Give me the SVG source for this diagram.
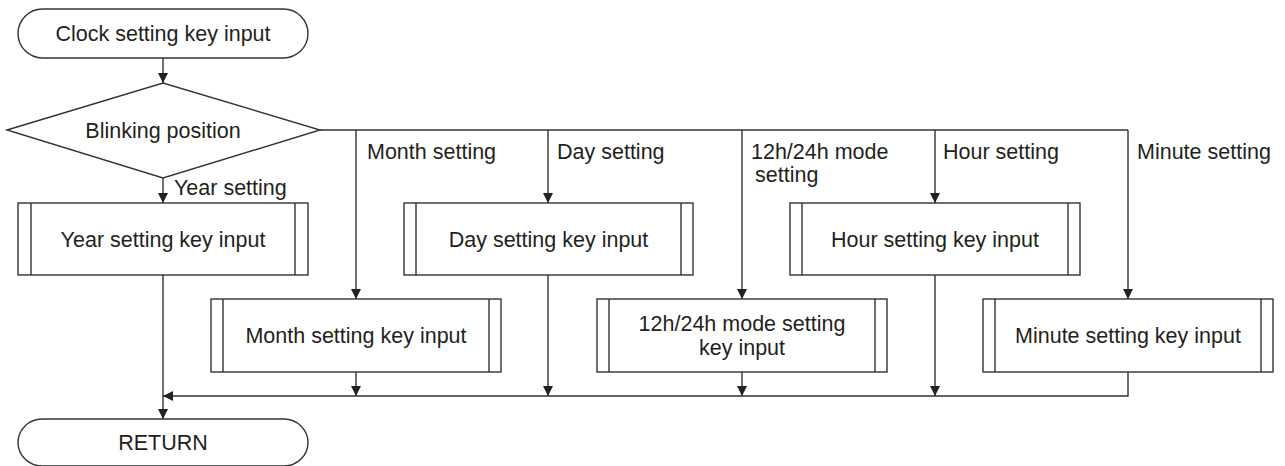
<svg xmlns="http://www.w3.org/2000/svg" width="1285" height="466" viewBox="0 0 1285 466">
<style>
.s{fill:#fff;stroke:#333;stroke-width:1.4}
.l{fill:none;stroke:#333;stroke-width:1.4}
text{font-family:"Liberation Sans",Arial,sans-serif;font-size:21.5px;fill:#231f20}
.c{text-anchor:middle}
</style>
<defs>
<marker id="a" viewBox="0 0 10 10" refX="10" refY="5" markerWidth="10" markerHeight="10" markerUnits="userSpaceOnUse" orient="auto">
<path d="M0,0 L10,5 L0,10 Z" fill="#222"/>
</marker>
</defs>
<g id="connectors">
<line class="l" x1="163" y1="58" x2="163" y2="83" marker-end="url(#a)"/>
<line class="l" x1="163" y1="178" x2="163" y2="203" marker-end="url(#a)"/>
<polyline class="l" points="320,130 1128,130"/>
<line class="l" x1="356" y1="130" x2="356" y2="299" marker-end="url(#a)"/>
<line class="l" x1="548" y1="130" x2="548" y2="203" marker-end="url(#a)"/>
<line class="l" x1="742" y1="130" x2="742" y2="299" marker-end="url(#a)"/>
<line class="l" x1="935" y1="130" x2="935" y2="203" marker-end="url(#a)"/>
<line class="l" x1="1128" y1="130" x2="1128" y2="299" marker-end="url(#a)"/>
<line class="l" x1="163" y1="275" x2="163" y2="419" marker-end="url(#a)"/>
<line class="l" x1="356" y1="372" x2="356" y2="396" marker-end="url(#a)"/>
<line class="l" x1="548" y1="275" x2="548" y2="396" marker-end="url(#a)"/>
<line class="l" x1="742" y1="372" x2="742" y2="396" marker-end="url(#a)"/>
<line class="l" x1="935" y1="275" x2="935" y2="396" marker-end="url(#a)"/>
<polyline class="l" points="1128,372 1128,396 163,396" marker-end="url(#a)"/>
<text x="174" y="195">Year setting</text>
<text x="367" y="159">Month setting</text>
<text x="557" y="159">Day setting</text>
<text x="751" y="159">12h/24h mode</text>
<text x="755" y="182">setting</text>
<text x="943" y="159">Hour setting</text>
<text x="1137" y="159">Minute setting</text>
</g>
<g id="start">
<rect class="s" x="18" y="9" width="290" height="49" rx="24.5" ry="24.5"/>
<text class="c" x="163" y="41">Clock setting key input</text>
</g>
<g id="decision">
<polygon class="s" points="7,130 163,83 320,130 163,178"/>
<text class="c" x="163" y="138">Blinking position</text>
</g>
<g id="year">
<rect class="s" x="18" y="203" width="290" height="72"/>
<line class="l" x1="31" y1="203" x2="31" y2="275"/><line class="l" x1="295" y1="203" x2="295" y2="275"/>
<text class="c" x="163" y="247">Year setting key input</text>
</g>
<g id="day">
<rect class="s" x="404" y="203" width="289" height="72"/>
<line class="l" x1="416" y1="203" x2="416" y2="275"/><line class="l" x1="681" y1="203" x2="681" y2="275"/>
<text class="c" x="548.5" y="247">Day setting key input</text>
</g>
<g id="hour">
<rect class="s" x="790" y="203" width="290" height="72"/>
<line class="l" x1="802" y1="203" x2="802" y2="275"/><line class="l" x1="1068" y1="203" x2="1068" y2="275"/>
<text class="c" x="935" y="247">Hour setting key input</text>
</g>
<g id="month">
<rect class="s" x="211" y="299" width="290" height="73"/>
<line class="l" x1="223" y1="299" x2="223" y2="372"/><line class="l" x1="489" y1="299" x2="489" y2="372"/>
<text class="c" x="356" y="343">Month setting key input</text>
</g>
<g id="mode">
<rect class="s" x="597" y="299" width="290" height="73"/>
<line class="l" x1="609" y1="299" x2="609" y2="372"/><line class="l" x1="875" y1="299" x2="875" y2="372"/>
<text class="c" x="742" y="331">12h/24h mode setting</text>
<text class="c" x="742" y="355">key input</text>
</g>
<g id="minute">
<rect class="s" x="983" y="299" width="290" height="73"/>
<line class="l" x1="995" y1="299" x2="995" y2="372"/><line class="l" x1="1261" y1="299" x2="1261" y2="372"/>
<text class="c" x="1128" y="343">Minute setting key input</text>
</g>
<g id="return">
<rect class="s" x="18" y="419" width="290" height="47" rx="24" ry="24"/>
<text class="c" x="163" y="450">RETURN</text>
</g>
</svg>
